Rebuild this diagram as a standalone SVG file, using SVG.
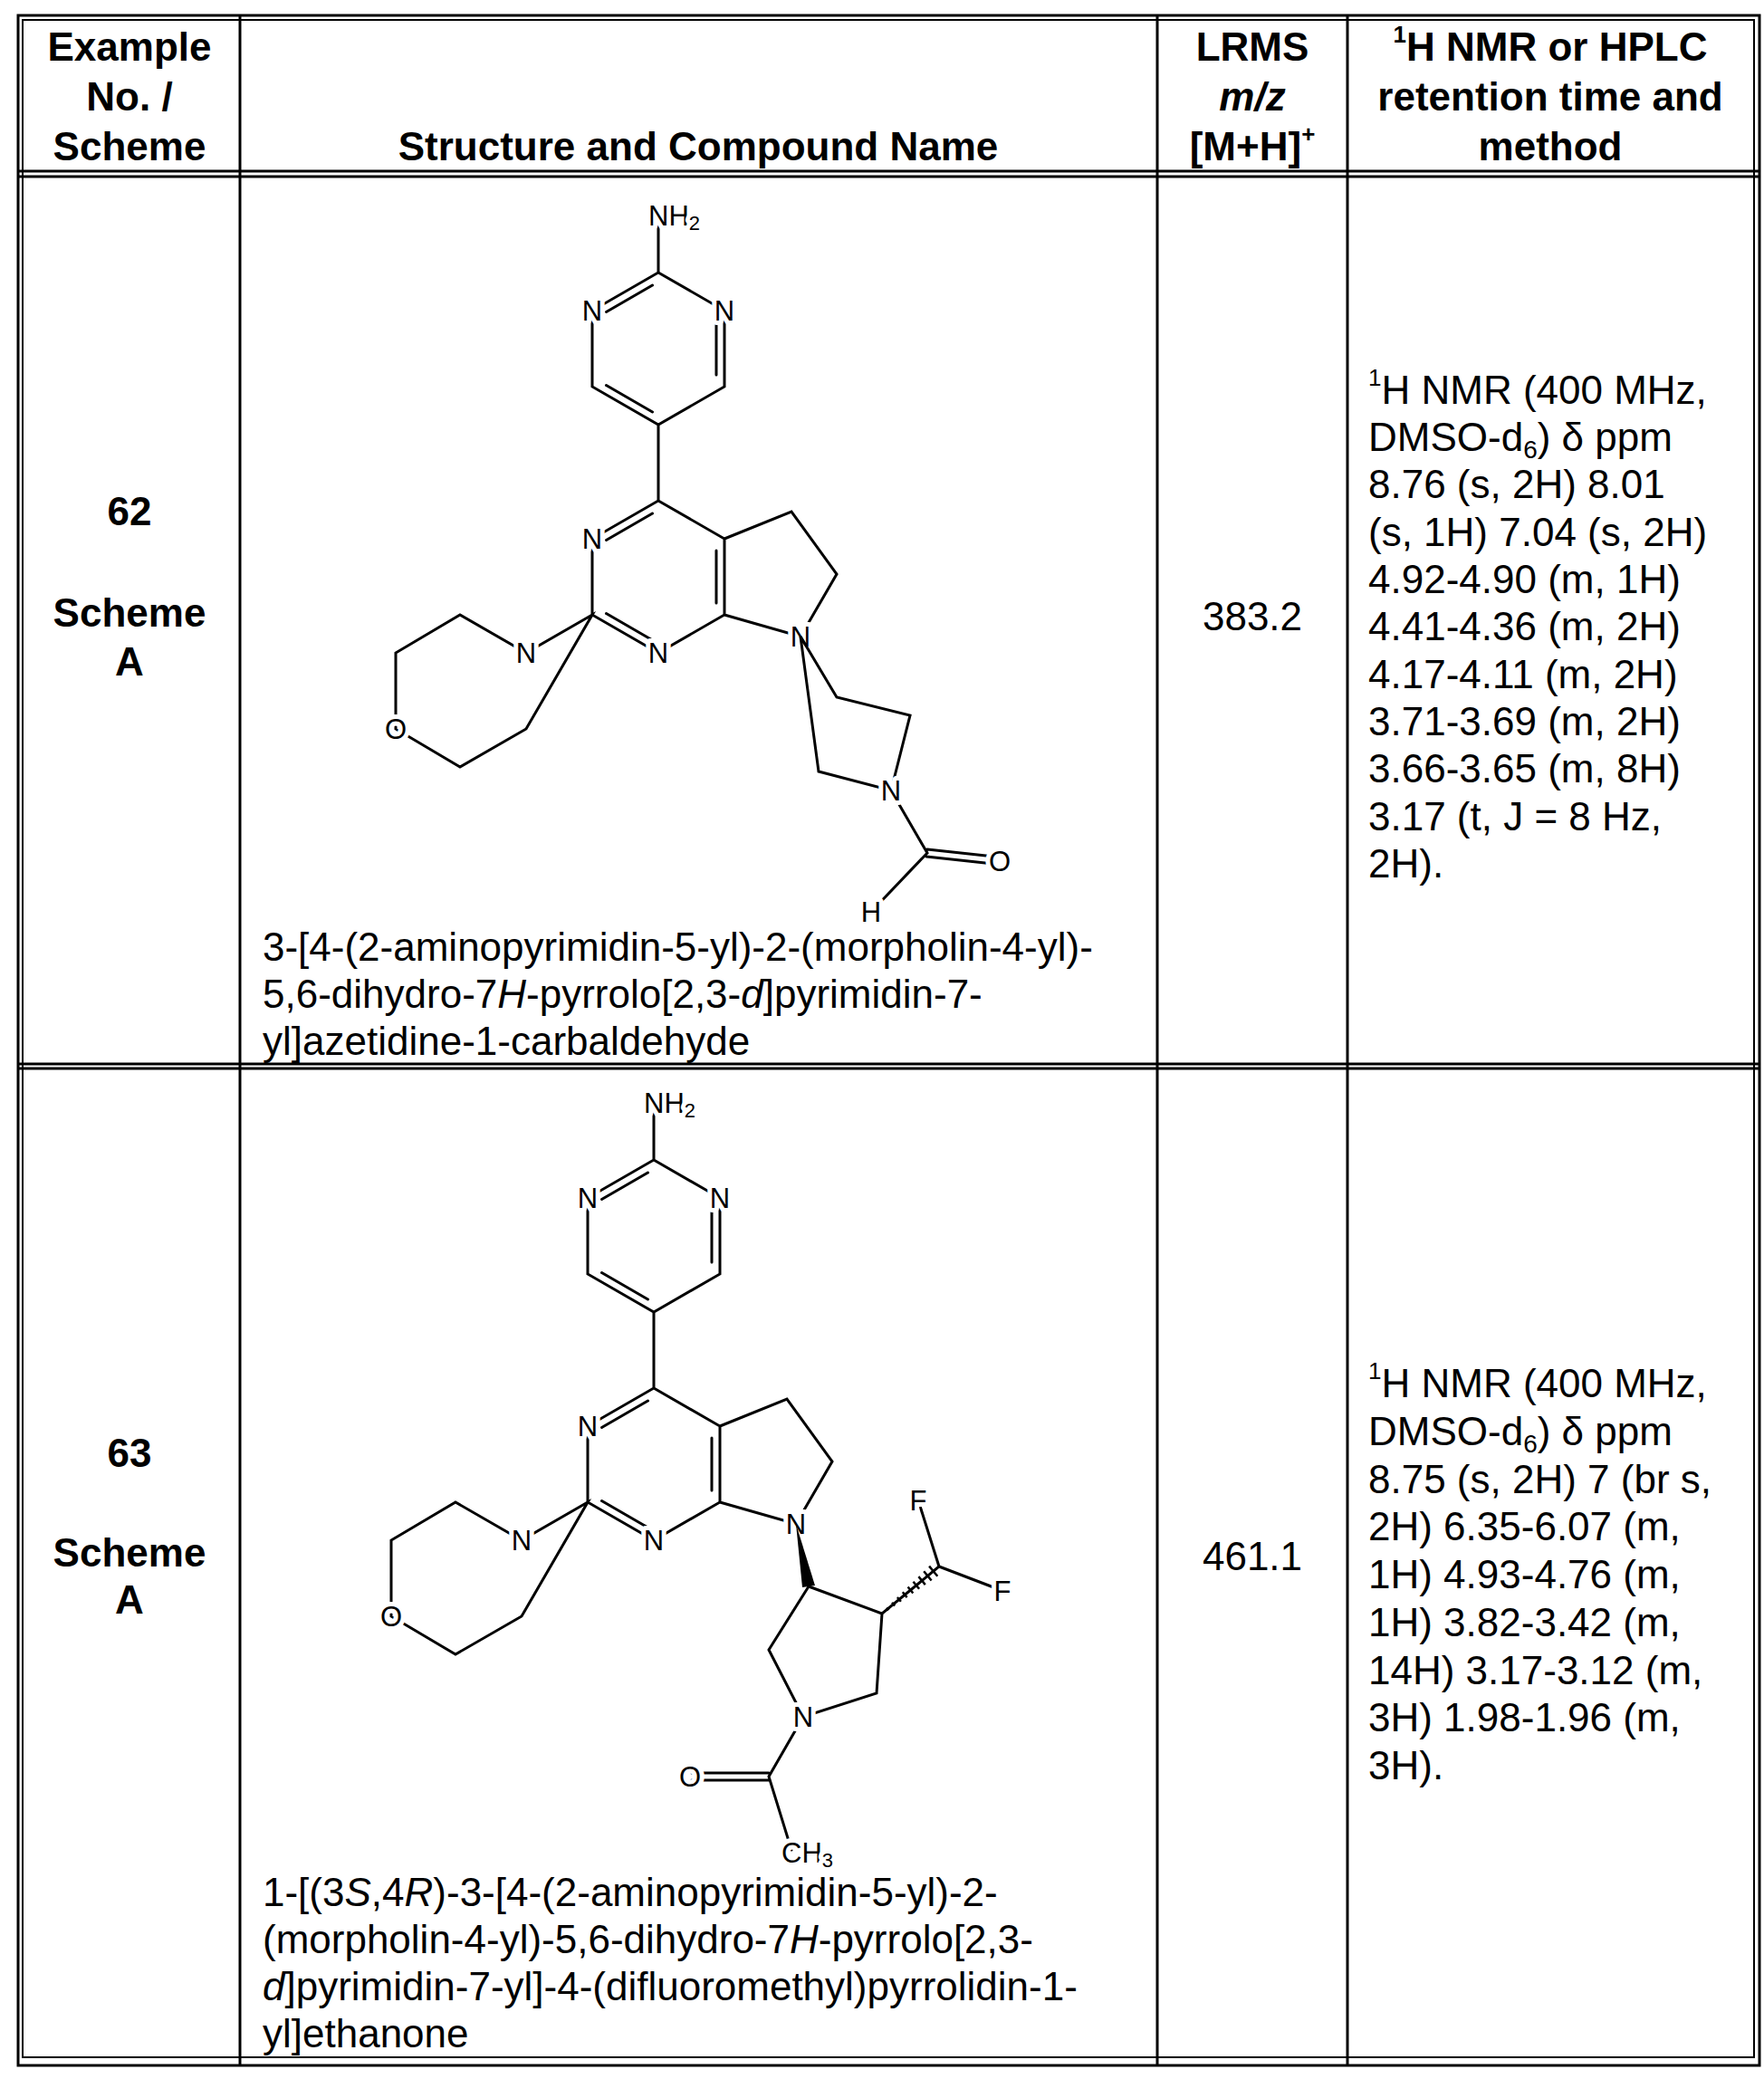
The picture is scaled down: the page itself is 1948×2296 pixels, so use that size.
<svg xmlns="http://www.w3.org/2000/svg" width="1948" height="2296" viewBox="0 0 1948 2296">
<style>
.t{font-family:"Liberation Sans",Arial,sans-serif;font-size:44px;fill:#000}
.b{font-weight:bold}
.c{text-anchor:middle}
.ln{stroke:#000;fill:none}
.bd{stroke:#000;stroke-width:3;fill:none;stroke-linecap:round}
.a{font-family:"Liberation Sans",Arial,sans-serif;font-size:31px;fill:#000;dominant-baseline:central;stroke:#fff;stroke-width:10;paint-order:stroke;stroke-linejoin:round}
</style>
<defs>
<g id="scaffold">
<path class="bd" d="M727,245 L727,301 L654,343 L654,427 L727,469 L800,427 L800,343 L727,301 M720.5,315 L669.5,344.5 M791,356 L791,414 M669.5,425.5 L720.5,455 M727,469 L727,553 L654,595 L654,679 L727,721 L800,679 L800,595 L727,553 M720.5,567 L669.5,596.5 M791,608 L791,666 M669.5,677.5 L720.5,707 M800,595 L874,565 L924,634 L884,703 L800,679 M654,679 L581,721 L508,679 L437,721 L437,805 L508,847 L581,805 Z"/>
<text class="a" x="716" y="238">NH<tspan font-size="22" dy="8">2</tspan></text>
<text class="a c" x="654" y="343">N</text>
<text class="a c" x="800" y="343">N</text>
<text class="a c" x="654" y="595">N</text>
<text class="a c" x="727" y="721">N</text>
<text class="a c" x="884" y="703">N</text>
<text class="a c" x="581" y="721">N</text>
<text class="a c" x="437" y="805">O</text>
</g>
</defs>
<g id="table">
<rect class="ln" x="20" y="17" width="1923" height="2264" stroke-width="3"/>
<rect class="ln" x="25" y="22" width="1912" height="2250" stroke-width="2"/>
<path class="ln" stroke-width="3" d="M20,189 H1943 M20,195 H1943 M20,1175 H1943 M20,1180 H1943 M265,17 V2281 M1278,17 V2281 M1488,17 V2281"/>
</g>
<g id="header">
<text class="t b c" x="143" y="67">Example</text>
<text class="t b c" x="143" y="122">No. /</text>
<text class="t b c" x="143" y="177">Scheme</text>
<text class="t b c" x="771" y="177">Structure and Compound Name</text>
<text class="t b c" x="1383" y="67">LRMS</text>
<text class="t b c" x="1383" y="122" font-style="italic">m/z</text>
<text class="t b c" x="1383" y="177">[M+H]<tspan font-size="26" dy="-20">+</tspan></text>
<text class="t b c" x="1712" y="67"><tspan font-size="26" dy="-20">1</tspan><tspan dy="20">H NMR or HPLC</tspan></text>
<text class="t b c" x="1712" y="122">retention time and</text>
<text class="t b c" x="1712" y="177">method</text>
</g>
<g id="row62">
<text class="t b c" x="143" y="580">62</text>
<text class="t b c" x="143" y="692">Scheme</text>
<text class="t b c" x="143" y="746">A</text>
<use href="#scaffold"/>
<path class="bd" d="M884,703 L924,770 L1005,790 L984,873 L904,852 Z M984,873 L1024,942 L962,1007 M1024,938 L1098,946 M1023,946 L1097,954"/>
<text class="a c" x="984" y="873">N</text>
<text class="a c" x="1104" y="951">O</text>
<text class="a c" x="962" y="1007">H</text>
<text class="t" x="290" y="1061">3-[4-(2-aminopyrimidin-5-yl)-2-(morpholin-4-yl)-</text>
<text class="t" x="290" y="1113">5,6-dihydro-7<tspan font-style="italic">H</tspan>-pyrrolo[2,3-<tspan font-style="italic">d</tspan>]pyrimidin-7-</text>
<text class="t" x="290" y="1165">yl]azetidine-1-carbaldehyde</text>
<text class="t c" x="1383" y="696">383.2</text>
<text class="t" x="1511" y="446"><tspan font-size="26" dy="-20">1</tspan><tspan dy="20">H NMR (400 MHz,</tspan></text>
<text class="t" x="1511" y="498">DMSO-d<tspan font-size="28" dy="8">6</tspan><tspan dy="-8">) δ ppm</tspan></text>
<text class="t" x="1511" y="550">8.76 (s, 2H) 8.01</text>
<text class="t" x="1511" y="603">(s, 1H) 7.04 (s, 2H)</text>
<text class="t" x="1511" y="655">4.92-4.90 (m, 1H)</text>
<text class="t" x="1511" y="707">4.41-4.36 (m, 2H)</text>
<text class="t" x="1511" y="760">4.17-4.11 (m, 2H)</text>
<text class="t" x="1511" y="812">3.71-3.69 (m, 2H)</text>
<text class="t" x="1511" y="864">3.66-3.65 (m, 8H)</text>
<text class="t" x="1511" y="917">3.17 (t, J = 8 Hz,</text>
<text class="t" x="1511" y="969">2H).</text>
</g>
<g id="row63">
<text class="t b c" x="143" y="1620">63</text>
<text class="t b c" x="143" y="1730">Scheme</text>
<text class="t b c" x="143" y="1782">A</text>
<g transform="translate(-5,980)">
<use href="#scaffold"/>
<polygon points="884,703 891,773 905,771" fill="#000"/>
<path class="bd" d="M898,772 L979,802 L973,890 L892,916 L854,842 Z M892,916 L854,982 L879,1063 M769,978 L854,978 M769,986 L854,986 M979,802 L1042,750 L1019,677 M1042,750 L1110,776"/>
<path stroke="#000" stroke-width="2.5" d="M984.2,795.5 L986.4,798.1 M990.1,789.8 L993.1,793.4 M995.9,784 L999.9,788.8 M1001.8,778.3 L1006.6,784.1 M1007.6,772.5 L1013.3,779.5 M1013.5,766.8 L1020.1,774.8 M1019.4,761.1 L1026.8,770.1 M1025.2,755.3 L1033.6,765.5 M1031.1,749.6 L1040.3,760.8"/>
<text class="a c" x="892" y="916">N</text>
<text class="a c" x="767" y="982">O</text>
<text class="a" x="868" y="1066">CH<tspan font-size="22" dy="8">3</tspan></text>
<text class="a c" x="1019" y="677">F</text>
<text class="a c" x="1112" y="777">F</text>
</g>
<text class="t" x="290" y="2105">1-[(3<tspan font-style="italic">S</tspan>,4<tspan font-style="italic">R</tspan>)-3-[4-(2-aminopyrimidin-5-yl)-2-</text>
<text class="t" x="290" y="2157">(morpholin-4-yl)-5,6-dihydro-7<tspan font-style="italic">H</tspan>-pyrrolo[2,3-</text>
<text class="t" x="290" y="2209"><tspan font-style="italic">d</tspan>]pyrimidin-7-yl]-4-(difluoromethyl)pyrrolidin-1-</text>
<text class="t" x="290" y="2261">yl]ethanone</text>
<text class="t c" x="1383" y="1734">461.1</text>
<text class="t" x="1511" y="1543"><tspan font-size="26" dy="-20">1</tspan><tspan dy="20">H NMR (400 MHz,</tspan></text>
<text class="t" x="1511" y="1596">DMSO-d<tspan font-size="28" dy="8">6</tspan><tspan dy="-8">) δ ppm</tspan></text>
<text class="t" x="1511" y="1649">8.75 (s, 2H) 7 (br s,</text>
<text class="t" x="1511" y="1701">2H) 6.35-6.07 (m,</text>
<text class="t" x="1511" y="1754">1H) 4.93-4.76 (m,</text>
<text class="t" x="1511" y="1807">1H) 3.82-3.42 (m,</text>
<text class="t" x="1511" y="1860">14H) 3.17-3.12 (m,</text>
<text class="t" x="1511" y="1912">3H) 1.98-1.96 (m,</text>
<text class="t" x="1511" y="1965">3H).</text>
</g>
</svg>
